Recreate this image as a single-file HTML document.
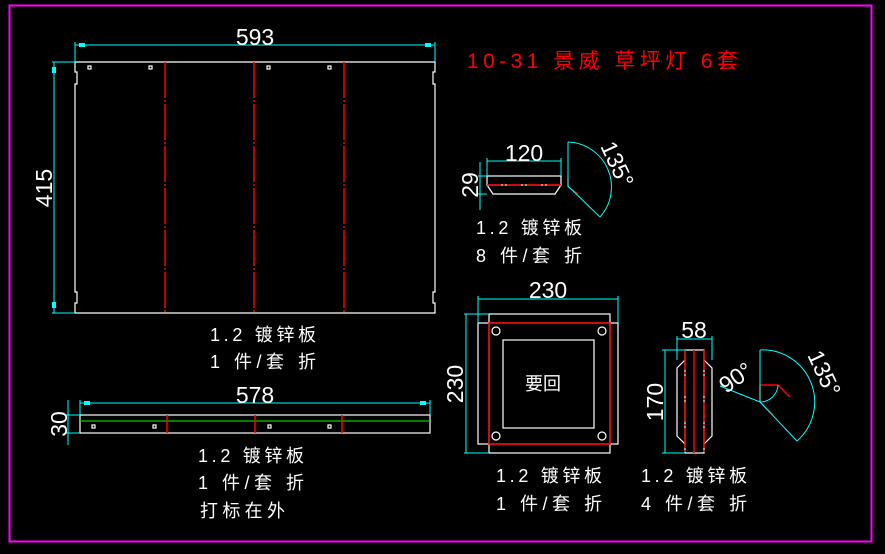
<!DOCTYPE html>
<html><head><style>
html,body{margin:0;padding:0;background:#000;}
svg{display:block}
text{font-family:"Liberation Sans","Noto Sans CJK SC",sans-serif;}
.c{fill:#fff;font-size:18px;font-family:"Liberation Mono","Noto Sans CJK SC",monospace;}
.d{fill:#fff;font-size:23px;}
</style></head><body>
<svg width="885" height="554" viewBox="0 0 885 554" xmlns="http://www.w3.org/2000/svg">
<rect x="0" y="0" width="885" height="554" fill="#000"/>
<rect x="9.5" y="5.5" width="862" height="536" fill="none" stroke="#f0f" stroke-width="2"/>
<g fill="none" stroke="#fff" stroke-width="1.2">
<path d="M75,62 H435 V72 H433 V84 H435 V292 H433 V303 H435 V313 H75 V303 H77 V292 H75 V84 H77 V72 H75 Z"/>
<rect x="88" y="66" width="3" height="3"/><rect x="149" y="66" width="3" height="3"/><rect x="267" y="66" width="3" height="3"/><rect x="328" y="66" width="3" height="3"/>
<rect x="80" y="415" width="350" height="18"/>
<rect x="92" y="425" width="3" height="3"/><rect x="153" y="425" width="3" height="3"/><rect x="268" y="425" width="3" height="3"/><rect x="328" y="425" width="3" height="3"/>
<rect x="487" y="176" width="74" height="9"/>
<path d="M487,185 L493,194 H555 L561,185"/>
<rect x="478" y="323" width="140" height="121"/>
<rect x="489" y="314" width="121" height="139"/>
<rect x="503" y="340" width="91" height="88"/>
<circle cx="496" cy="331" r="4"/><circle cx="602" cy="331" r="4"/><circle cx="496" cy="436" r="4"/><circle cx="602" cy="436" r="4"/>
<rect x="685" y="350" width="19" height="103"/>
<path d="M685,360 L677,368 V436 L685,444 M704,360 L712,368 V436 L704,444"/>
</g>
<line x1="80" y1="421" x2="430" y2="421" stroke="#0c0" stroke-width="1.2"/>
<g stroke="#f00" stroke-width="1.5" fill="none">
<line x1="165" y1="62" x2="165" y2="313" stroke-dasharray="36,2,2,2"/>
<line x1="254" y1="62" x2="254" y2="313" stroke-dasharray="36,2,2,2"/>
<line x1="344" y1="62" x2="344" y2="313" stroke-dasharray="36,2,2,2"/>
<line x1="167" y1="415" x2="167" y2="433"/><line x1="255" y1="415" x2="255" y2="433"/><line x1="342" y1="415" x2="342" y2="433"/>
<line x1="487" y1="185" x2="561" y2="185" stroke-dasharray="14,2,2,2"/>
<path d="M568,178 V187 L578,194"/>
<rect x="489" y="323" width="121" height="121"/>
<line x1="685" y1="350" x2="685" y2="453" stroke-dasharray="20,2,2,2"/>
<line x1="694" y1="350" x2="694" y2="453"/>
<line x1="704" y1="350" x2="704" y2="453" stroke-dasharray="20,2,2,2"/>
<path d="M760,385 H778 M760,385 V402 M778,385 L790,397 M760,402 L773,415"/>
</g>
<g stroke="#0ff" stroke-width="1" fill="none">
<path d="M75,62 V42 M435,62 V42 M75,45 H435"/>
<path d="M75,62 H52 M75,313 H52 M54,62 V313"/>
<path d="M80,415 V400 M430,415 V400 M80,403 H430"/>
<path d="M80,415 H66 M80,433 H66 M68,400 V445"/>
<path d="M487,176 V158 M561,176 V158 M487,161 H561"/>
<path d="M487,176 H478 M487,194 H478 M480,162 V210"/>
<path d="M568,142 V186 M568,186 L600,217 M568,142 A45,45 0 0 1 600,217"/>
<path d="M478,323 V296 M618,323 V296 M478,299 H618"/>
<path d="M489,314 H464 M489,453 H464 M466,314 V453"/>
<path d="M677,360 V336 M712,360 V336 M677,339 H712"/>
<path d="M685,350 H662 M685,453 H662 M665,350 V453"/>
<path d="M760,350 V402 M760,350 A52,52 0 0 1 797,441 M760,402 L797,441 M760,402 L720,386 M760,402 A18,18 0 0 0 778,385"/>
</g>
<g fill="#0ff">
<rect x="79" y="43" width="6" height="4"/><rect x="425" y="43" width="6" height="4"/>
<rect x="52" y="67" width="4" height="6"/><rect x="52" y="302" width="4" height="6"/>
<rect x="84" y="401" width="6" height="4"/><rect x="420" y="401" width="6" height="4"/>
</g>
<text class="d" x="255" y="45" text-anchor="middle">593</text>
<text class="d" transform="translate(52,188) rotate(-90)" text-anchor="middle">415</text>
<text class="d" x="255" y="403" text-anchor="middle">578</text>
<text class="d" transform="translate(67,424) rotate(-90)" text-anchor="middle">30</text>
<text class="d" x="524" y="161" text-anchor="middle">120</text>
<text class="d" transform="translate(478,185) rotate(-90)" text-anchor="middle">29</text>
<text class="d" transform="translate(600,146) rotate(65)">135°</text>
<text class="d" x="548" y="298" text-anchor="middle">230</text>
<text class="d" transform="translate(463,384) rotate(-90)" text-anchor="middle">230</text>
<text class="d" x="694" y="338" text-anchor="middle">58</text>
<text class="d" transform="translate(663,402) rotate(-90)" text-anchor="middle">170</text>
<text class="d" transform="translate(726,394) rotate(-35)">90°</text>
<text class="d" transform="translate(807,355) rotate(65)">135°</text>
<text x="543" y="390" fill="#fff" font-size="18" text-anchor="middle">要回</text>
<text x="467" y="68" fill="#f00" font-size="21" font-family="Liberation Mono,Noto Serif CJK SC,serif" textLength="271" lengthAdjust="spacing">10-31 景威 草坪灯 6套</text>
<g class="c">
<text x="210" y="341" textLength="106" lengthAdjust="spacing">1.2 镀锌板</text>
<text x="210" y="368" textLength="106" lengthAdjust="spacing">1 件/套 折</text>
<text x="198" y="462" textLength="106" lengthAdjust="spacing">1.2 镀锌板</text>
<text x="198" y="489" textLength="106" lengthAdjust="spacing">1 件/套 折</text>
<text x="200" y="517" textLength="85" lengthAdjust="spacing">打标在外</text>
<text x="476" y="234" textLength="106" lengthAdjust="spacing">1.2 镀锌板</text>
<text x="476" y="262" textLength="106" lengthAdjust="spacing">8 件/套 折</text>
<text x="496" y="482" textLength="106" lengthAdjust="spacing">1.2 镀锌板</text>
<text x="496" y="510" textLength="106" lengthAdjust="spacing">1 件/套 折</text>
<text x="641" y="482" textLength="106" lengthAdjust="spacing">1.2 镀锌板</text>
<text x="641" y="510" textLength="106" lengthAdjust="spacing">4 件/套 折</text>
</g>
</svg>
</body></html>
